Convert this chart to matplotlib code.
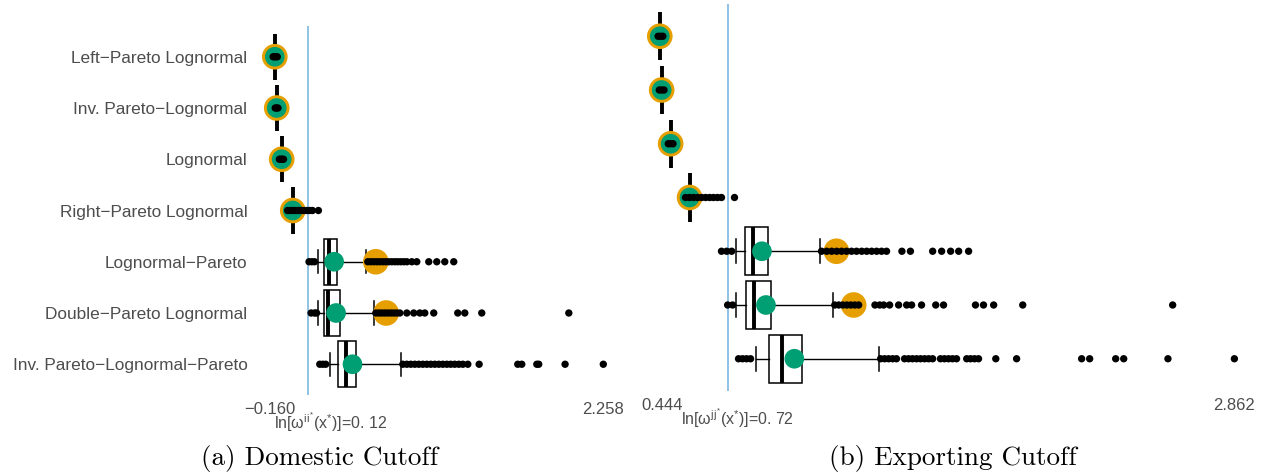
import matplotlib
matplotlib.use("Agg")
import matplotlib.pyplot as plt
from matplotlib.transforms import blended_transform_factory, ScaledTranslation

# ---------------- data ----------------
categories = ["Left\u2212Pareto Lognormal", "Inv. Pareto\u2212Lognormal", "Lognormal",
              "Right\u2212Pareto Lognormal", "Lognormal\u2212Pareto",
              "Double\u2212Pareto Lognormal", "Inv. Pareto\u2212Lognormal\u2212Pareto"]

# Panel (a) Domestic cutoff
a_med = [-0.123, -0.109, -0.073, 0.007, 0.270, 0.266, 0.391]
a_q1 = [-0.123, -0.109, -0.073, 0.007, 0.234, 0.237, 0.333]
a_q3 = [-0.123, -0.109, -0.073, 0.007, 0.331, 0.346, 0.466]
a_wlo = [-0.123, -0.109, -0.073, 0.007, 0.193, 0.193, 0.278]
a_whi = [-0.123, -0.109, -0.073, 0.007, 0.538, 0.597, 0.792]
a_mean = [-0.123, -0.109, -0.073, 0.007, 0.307, 0.321, 0.440]
a_orange = [-0.123, -0.109, -0.073, 0.007, 0.609, 0.684, None]
a_fliers = [
    [-0.135, -0.125, -0.115, -0.105],
    [-0.120, -0.110, -0.100],
    [-0.090, -0.080, -0.070, -0.060],
    [-0.030, -0.010, 0.010, 0.030, 0.050, 0.070, 0.090, 0.110, 0.130, 0.150, 0.193],
    [0.125, 0.145, 0.165, 0.551, 0.573, 0.594, 0.616, 0.638, 0.660, 0.681, 0.703,
     0.725, 0.747, 0.768, 0.790, 0.812, 0.834, 0.870, 0.906, 0.993, 1.051, 1.109, 1.174],
    [0.140, 0.165, 0.180, 0.609, 0.631, 0.652, 0.674, 0.696, 0.718, 0.739, 0.761,
     0.783, 0.834, 0.884, 0.928, 0.964, 1.029, 1.203, 1.254, 1.377, 2.008],
    [0.203, 0.225, 0.246, 0.805, 0.834, 0.863, 0.892, 0.921, 0.950, 0.979, 1.008,
     1.037, 1.066, 1.095, 1.124, 1.152, 1.181, 1.211, 1.240, 1.276, 1.358, 1.638,
     1.667, 1.776, 1.790, 1.981, 2.258],
]
a_cutoff = 0.12
a_ticks = [-0.160, 2.258]
a_ticklabels = ["\u22120.160", "2.258"]
a_cutlabel = r"ln[ω$^{ii^{*}}$(x$^{*}$)]=0. 12"

# Panel (b) Exporting cutoff
b_med = [0.432, 0.440, 0.478, 0.558, 0.826, 0.829, 0.949]
b_q1 = [0.432, 0.440, 0.478, 0.558, 0.794, 0.796, 0.892]
b_q3 = [0.432, 0.440, 0.478, 0.558, 0.889, 0.902, 1.033]
b_wlo = [0.432, 0.440, 0.478, 0.558, 0.756, 0.756, 0.839]
b_whi = [0.432, 0.440, 0.478, 0.558, 1.108, 1.164, 1.358]
b_mean = [0.432, 0.440, 0.478, 0.558, 0.864, 0.881, 1.001]
b_orange = [0.432, 0.440, 0.478, 0.558, 1.179, 1.252, None]
b_fliers = [
    [0.425, 0.435, 0.445],
    [0.430, 0.440, 0.450],
    [0.468, 0.478, 0.488],
    [0.541, 0.558, 0.575, 0.592, 0.609, 0.626, 0.643, 0.659, 0.676, 0.693, 0.748],
    [0.693, 0.715, 0.736, 1.116, 1.138, 1.159, 1.180, 1.201, 1.222, 1.243, 1.264,
     1.286, 1.307, 1.328, 1.349, 1.370, 1.391, 1.456, 1.492, 1.586, 1.624, 1.662,
     1.696, 1.738],
    [0.719, 0.740, 1.172, 1.189, 1.206, 1.223, 1.240, 1.257, 1.273, 1.342, 1.362,
     1.379, 1.404, 1.442, 1.476, 1.497, 1.539, 1.599, 1.632, 1.767, 1.801, 1.844,
     1.967, 2.601],
    [0.765, 0.782, 0.799, 0.816, 1.366, 1.383, 1.400, 1.417, 1.433, 1.467, 1.484,
     1.501, 1.518, 1.535, 1.552, 1.569, 1.586, 1.619, 1.636, 1.653, 1.670, 1.687,
     1.730, 1.746, 1.763, 1.780, 1.853, 1.941, 2.216, 2.250, 2.360, 2.394, 2.581,
     2.862],
]
b_cutoff = 0.72
b_ticks = [0.444, 2.862]
b_ticklabels = ["0.444", "2.862"]
b_cutlabel = r"ln[ω$^{jj^{*}}$(x$^{*}$)]=0. 72"

captions = ["(a) Domestic Cutoff", "(b) Exporting Cutoff"]

# ---------------- style ----------------
ORANGE = "#E69F00"
GREEN = "#009E73"
TXT = "#4d4d4d"
VLINE = "#7db8e0"
plt.rcParams["font.family"] = ["Liberation Sans", "DejaVu Sans"]
plt.rcParams["mathtext.fontset"] = "custom"
plt.rcParams["mathtext.rm"] = "Liberation Sans"
plt.rcParams["mathtext.it"] = "Liberation Sans"

fig = plt.figure(figsize=(12.7, 4.74), dpi=100)
W, H = 1270.0, 474.0

def px_axes(l, r, t, b):
    return fig.add_axes([l / W, 1 - b / H, (r - l) / W, (b - t) / H])

ax_a = px_axes(253, 620, 26, 395)
ax_b = px_axes(634, 1263, 4, 391)

positions = list(range(1, len(categories) + 1))

def draw(ax, med, q1, q3, wlo, whi, mean, orange, fliers, cutoff, ticks,
         ticklabels, cutlabel, xlim, show_labels, text_dx):
    stats = []
    for i in range(len(categories)):
        stats.append(dict(med=med[i], q1=q1[i], q3=q3[i], whislo=wlo[i],
                          whishi=whi[i], fliers=[], label=categories[i]))
    ax.axvline(cutoff, color=VLINE, lw=1.2, zorder=1)
    ax.bxp(stats, positions=positions, widths=0.9, orientation="horizontal",
           patch_artist=True, showfliers=False, capwidths=0.45,
           boxprops=dict(facecolor="white", edgecolor="black", lw=1.1),
           whiskerprops=dict(color="black", lw=1.0),
           capprops=dict(color="black", lw=1.1),
           medianprops=dict(color="black", lw=2.8, solid_capstyle="butt"),
           manage_ticks=False, zorder=2)
    oy = [p for p, o in zip(positions, orange) if o is not None]
    ox = [o for o in orange if o is not None]
    ax.scatter(ox, oy, s=340, color=ORANGE, edgecolors="none", zorder=3)
    ax.scatter(mean, positions, s=200, color=GREEN, edgecolors="none", zorder=4)
    fx, fy = [], []
    for p, fl in zip(positions, fliers):
        fx += fl
        fy += [p] * len(fl)
    ax.scatter(fx, fy, s=28, color="black", edgecolors="none", zorder=5)

    ax.set_xlim(*xlim)
    ax.set_ylim(len(categories) + 0.6, 0.4)
    for s in ax.spines.values():
        s.set_visible(False)
    ax.set_xticks(ticks)
    ax.set_xticklabels(ticklabels)
    ax.tick_params(axis="both", length=0, colors=TXT, labelsize=12)
    ax.tick_params(axis="x", pad=5)
    ax.set_yticks(positions)
    if show_labels:
        ax.set_yticklabels(categories, fontsize=12.4)
        ax.tick_params(axis="y", pad=4)
    else:
        ax.set_yticklabels([])
    trans = blended_transform_factory(ax.transData, ax.transAxes)
    trans = trans + ScaledTranslation(text_dx / 100.0, -27 / 100.0, fig.dpi_scale_trans)
    ax.text(cutoff, 0, cutlabel, transform=trans, ha="center", va="center",
            fontsize=11.5, color=TXT)

draw(ax_a, a_med, a_q1, a_q3, a_wlo, a_whi, a_mean, a_orange, a_fliers,
     a_cutoff, a_ticks, a_ticklabels, a_cutlabel, (-0.281, 2.379), True, 22)
draw(ax_b, b_med, b_q1, b_q3, b_wlo, b_whi, b_mean, b_orange, b_fliers,
     b_cutoff, b_ticks, b_ticklabels, b_cutlabel, (0.323, 2.983), False, 10)

fig.text(319.5 / W, 1 - 459 / H, captions[0], ha="center", va="center",
         fontsize=19.5, family="cmr10", color="black")
fig.text(953 / W, 1 - 459 / H, captions[1], ha="center", va="center",
         fontsize=19.5, family="cmr10", color="black")

fig.savefig("out.png", dpi=100)
